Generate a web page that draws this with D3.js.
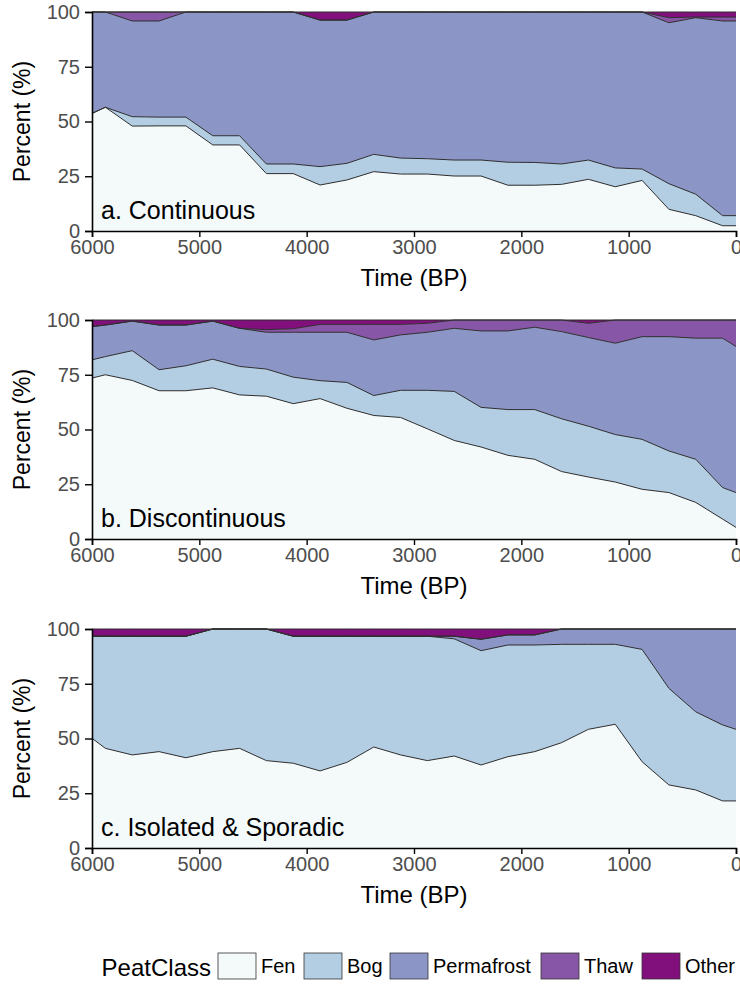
<!DOCTYPE html>
<html>
<head>
    <meta charset="utf-8">
    <title>Peat classes through time</title>
    <script src="https://d3js.org/d3.v7.min.js"></script>
    <style>
        body { margin: 0; background: #fff; }
        text { font-family: "Liberation Sans", Arial, sans-serif; }
    </style>
</head>
<body>
    <div id="chart"></div>
    <script>
        const years = [6000, 5875, 5625, 5375, 5125, 4875, 4625, 4375, 4125, 3875, 3625, 3375, 3125,
                       2875, 2625, 2375, 2125, 1875, 1625, 1375, 1125, 875, 625, 375, 125, 0];
        const classes = ["Fen", "Bog", "Permafrost", "Thaw", "Other"];
        const colors = ["#f4f9fa", "#b3cde3", "#8c96c6", "#8856a7", "#810f7c"];
        const yTicks = [0, 25, 50, 75, 100];
        const xTicks = [6000, 5000, 4000, 3000, 2000, 1000, 0];

        // a. Continuous
        const fenA   = [53.7, 56.5, 47.9, 48.0, 48.0, 39.3, 39.3, 26.2, 26.2, 21.0, 23.3, 27.1, 26.0,
                        26.0, 25.1, 25.1, 20.9, 20.9, 21.3, 23.6, 20.2, 23.1, 9.9, 7.0, 2.4, 2.4];
        const bogA   = [0, 0, 4.3, 4.0, 4.0, 4.2, 4.2, 4.4, 4.4, 8.4, 7.6, 7.9, 7.3,
                        7.0, 7.3, 7.3, 10.5, 10.4, 9.3, 8.8, 8.6, 5.2, 11.7, 9.8, 4.6, 4.6];
        const permA  = [46.3, 43.5, 43.7, 43.9, 48.0, 56.5, 56.5, 69.4, 69.4, 66.9, 65.4, 65.0, 66.7,
                        67.0, 67.6, 67.6, 68.6, 68.7, 69.4, 67.6, 71.2, 71.7, 73.5, 80.6, 88.9, 88.9];
        const thawA  = [0, 0, 4.1, 4.1, 0, 0, 0, 0, 0, 0, 0, 0, 0,
                        0, 0, 0, 0, 0, 0, 0, 0, 0, 2.3, 0.3, 1.8, 1.8];
        const otherA = [0, 0, 0, 0, 0, 0, 0, 0, 0, 3.7, 3.7, 0, 0,
                        0, 0, 0, 0, 0, 0, 0, 0, 0, 2.6, 2.3, 2.3, 2.3];

        // b. Discontinuous
        const fenB   = [73.5, 75.0, 72.4, 67.7, 67.7, 69.0, 65.8, 65.2, 61.8, 64.1, 59.7, 56.4, 55.5,
                        50.3, 45.0, 42.0, 38.2, 36.4, 30.8, 28.3, 26.0, 22.7, 21.2, 16.7, 9.1, 5.3];
        const bogB   = [8.3, 8.3, 13.6, 9.6, 11.4, 13.1, 13.0, 12.4, 12.1, 8.2, 11.8, 9.1, 12.4,
                        17.6, 22.4, 18.1, 20.9, 22.7, 24.1, 23.2, 21.7, 22.8, 19.0, 19.7, 14.4, 15.9];
        const permB  = [15.2, 14.4, 13.5, 20.4, 18.6, 17.4, 17.4, 16.8, 20.5, 22.1, 22.9, 25.4, 25.3,
                        26.5, 28.8, 34.9, 35.9, 37.6, 39.8, 40.5, 41.7, 46.9, 52.2, 55.3, 68.2, 66.7];
        const thawB  = [0, 0, 0, 0, 0, 0, 0, 1.2, 1.6, 3.6, 3.6, 7.1, 4.8,
                        4.1, 3.8, 5.0, 5.0, 3.3, 5.3, 6.5, 10.6, 7.6, 7.6, 8.3, 8.3, 12.1];
        const otherB = [3.0, 2.3, 0.5, 2.3, 2.3, 0.5, 3.8, 4.4, 4.0, 2.0, 2.0, 2.0, 2.0,
                        1.5, 0, 0, 0, 0, 0, 1.5, 0, 0, 0, 0, 0, 0];

        // c. Isolated & Sporadic
        const fenC   = [50.1, 45.5, 42.5, 44.0, 41.2, 44.0, 45.5, 39.9, 38.7, 35.2, 39.1, 46.1, 42.5,
                        39.9, 42.0, 37.9, 41.7, 44.0, 48.1, 54.2, 56.5, 39.4, 28.8, 26.5, 21.5, 21.5];
        const bogC   = [46.6, 51.2, 54.2, 52.7, 55.5, 56.0, 54.5, 60.1, 58.0, 61.5, 57.6, 50.6, 54.2,
                        56.8, 53.5, 52.2, 51.0, 48.7, 44.9, 38.8, 36.5, 51.3, 44.1, 35.7, 34.7, 32.7];
        const permC  = [0, 0, 0, 0, 0, 0, 0, 0, 0, 0, 0, 0, 0,
                        0, 1.2, 5.2, 4.6, 4.6, 7.0, 7.0, 7.0, 9.3, 27.1, 37.8, 43.8, 45.8];
        const thawC  = [0, 0, 0, 0, 0, 0, 0, 0, 0, 0, 0, 0, 0,
                        0, 0, 0, 0, 0, 0, 0, 0, 0, 0, 0, 0, 0];
        const otherC = [3.3, 3.3, 3.3, 3.3, 3.3, 0, 0, 0, 3.3, 3.3, 3.3, 3.3, 3.3,
                        3.3, 3.3, 4.7, 2.7, 2.7, 0, 0, 0, 0, 0, 0, 0, 0];

        const panels = [
            {label: "a. Continuous", series: [fenA, bogA, permA, thawA, otherA]},
            {label: "b. Discontinuous", series: [fenB, bogB, permB, thawB, otherB]},
            {label: "c. Isolated & Sporadic", series: [fenC, bogC, permC, thawC, otherC]}
        ];

        const width = 740, height = 989;
        const left = 92, right = 736, panelH = 219;
        const panelTops = [12, 320, 629];

        const svg = d3.select("#chart")
          .append("svg")
            .attr("width", width)
            .attr("height", height);

        const x = d3.scaleLinear().domain([6000, 0]).range([left, right]);
        const color = d3.scaleOrdinal().domain(classes).range(colors);

        panels.forEach(function(p, i) {
            const top = panelTops[i];
            const y = d3.scaleLinear().domain([0, 100]).range([top + panelH, top]);

            const rows = years.map(function(t, j) {
                const r = {t: t};
                classes.forEach(function(c, k) { r[c] = p.series[k][j]; });
                return r;
            });
            const stacked = d3.stack().keys(classes)(rows);

            const g = svg.append("g");

            g.selectAll("path.area")
              .data(stacked)
              .join("path")
                .attr("class", "area")
                .attr("fill", d => color(d.key))
                .attr("d", d3.area()
                    .x(d => x(d.data.t))
                    .y0(d => y(d[0]))
                    .y1(d => y(d[1])));

            g.selectAll("path.edge")
              .data(stacked)
              .join("path")
                .attr("class", "edge")
                .attr("fill", "none")
                .attr("stroke", "#2e2e2e")
                .attr("stroke-width", 1)
                .attr("d", d3.line()
                    .x(d => x(d.data.t))
                    .y(d => y(d[1])));

            // axes
            const yAxis = g.append("g")
                .attr("transform", `translate(${left},0)`)
                .call(d3.axisLeft(y).tickValues(yTicks).tickSize(7).tickPadding(5));
            const xAxis = g.append("g")
                .attr("transform", `translate(0,${top + panelH})`)
                .call(d3.axisBottom(x).tickValues(xTicks).tickFormat(d3.format("d")).tickSize(6).tickPadding(3));
            [yAxis, xAxis].forEach(function(a) {
                a.select(".domain").attr("stroke", "#000").attr("stroke-width", 1.6);
                a.selectAll(".tick line").attr("stroke", "#000").attr("stroke-width", 1.4);
                a.selectAll(".tick text")
                    .attr("fill", "#4d4d4d")
                    .style("font-size", "20px")
                    .style("font-family", "'Liberation Sans', Arial, sans-serif");
            });

            g.append("text")
                .attr("x", 101)
                .attr("y", top + panelH - 12)
                .attr("fill", "#000")
                .style("font-size", "25px")
                .text(p.label);

            g.append("text")
                .attr("transform", `translate(30,${top + panelH / 2}) rotate(-90)`)
                .attr("text-anchor", "middle")
                .style("font-size", "23px")
                .text("Percent (%)");

            g.append("text")
                .attr("x", (left + right) / 2)
                .attr("y", top + panelH + 55)
                .attr("text-anchor", "middle")
                .style("font-size", "24px")
                .text("Time (BP)");
        });

        // legend
        const legend = svg.append("g").attr("transform", "translate(0,953)");
        legend.append("text")
            .attr("x", 211)
            .attr("y", 23)
            .attr("text-anchor", "end")
            .style("font-size", "24px")
            .text("PeatClass");

        const itemX = [218, 304, 390, 541, 642];
        classes.forEach(function(c, k) {
            legend.append("rect")
                .attr("x", itemX[k])
                .attr("y", 0)
                .attr("width", 38)
                .attr("height", 26)
                .attr("fill", color(c))
                .attr("stroke", "#333")
                .attr("stroke-width", 0.8);
            legend.append("text")
                .attr("x", itemX[k] + 43)
                .attr("y", 20)
                .style("font-size", "20px")
                .text(c);
        });
    </script>
</body>
</html>
